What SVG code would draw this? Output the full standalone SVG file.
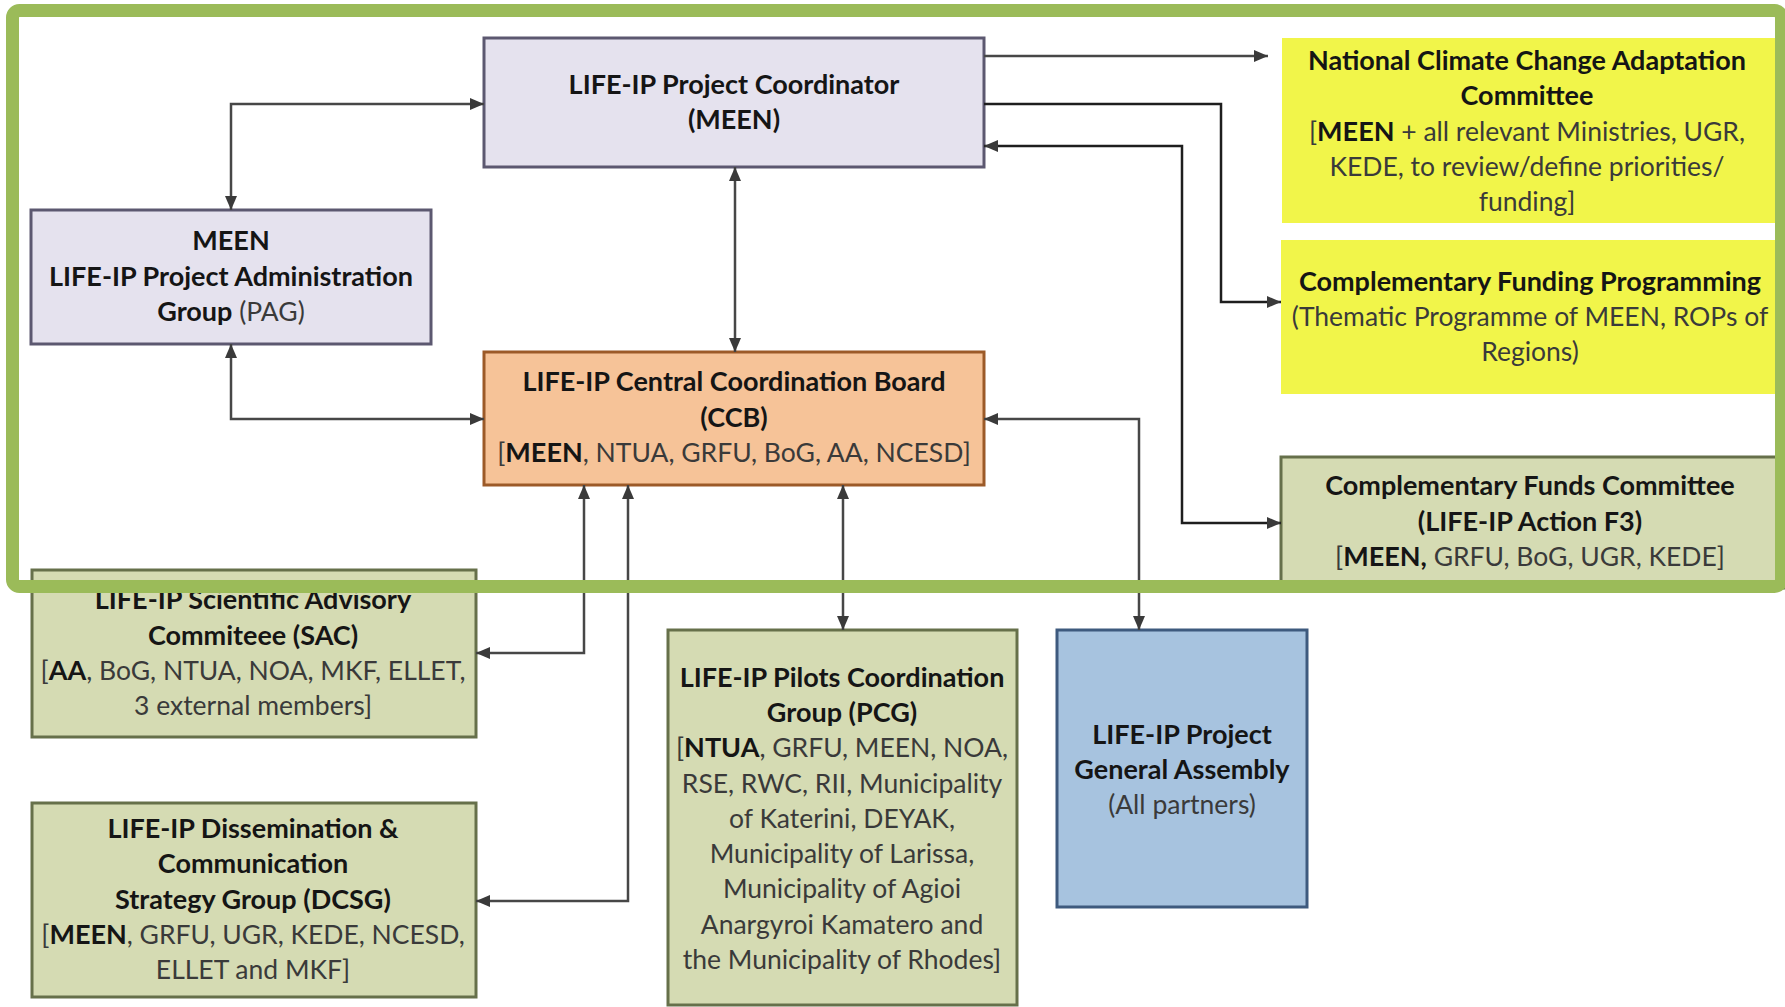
<svg xmlns="http://www.w3.org/2000/svg" width="1785" height="1007" viewBox="0 0 1785 1007">
<style>
text{font-family:Lato,"Liberation Sans",sans-serif;font-size:26.5px;text-anchor:middle;fill:#3a3a3a}
.b{font-weight:bold;font-size:27px;fill:#151515}
.purple{fill:#e5e2ee;stroke:#5c5870;stroke-width:3}
.orange{fill:#f6c398;stroke:#9c5a28;stroke-width:3}
.yellow{fill:#f1f54a;stroke:none}
.olive{fill:#d5dbb3;stroke:#66704a;stroke-width:3}
.blue{fill:#a7c3df;stroke:#3e5a7e;stroke-width:3}
.con path{fill:none;stroke:#474747;stroke-width:2.5}
.con path.dk{stroke:#1e1e1e}
</style>
<defs>
<marker id="ah" markerUnits="userSpaceOnUse" viewBox="0 0 14 12" markerWidth="14" markerHeight="12" refX="14" refY="6" orient="auto-start-reverse">
<path d="M0,0 L14,6 L0,12 z" fill="#3a3a3a"/>
</marker>
</defs>
<rect width="1785" height="1007" fill="#ffffff"/>

<g id="coordinator">
<rect class="purple" x="484" y="38" width="500" height="129"/>
<text x="734" y="94" class="b">LIFE-IP Project Coordinator</text>
<text x="734" y="129" class="b">(MEEN)</text>
</g>

<g id="pag">
<rect class="purple" x="31" y="210" width="400" height="134"/>
<text x="231" y="250" class="b">MEEN</text>
<text x="231" y="286" class="b">LIFE-IP Project Administration</text>
<text x="231" y="321"><tspan class="b">Group</tspan> (PAG)</text>
</g>

<g id="ccb">
<rect class="orange" x="484" y="352" width="500" height="133"/>
<text x="734" y="391" class="b">LIFE-IP Central Coordination Board</text>
<text x="734" y="427" class="b">(CCB)</text>
<text x="734" y="462">[<tspan class="b">MEEN</tspan>, NTUA, GRFU, BoG, AA, NCESD]</text>
</g>

<g id="ncca">
<rect class="yellow" x="1282" y="38" width="500" height="185"/>
<text x="1527" y="70" class="b">National Climate Change Adaptation</text>
<text x="1527" y="105" class="b">Committee</text>
<text x="1527" y="141">[<tspan class="b">MEEN</tspan> + all relevant Ministries, UGR,</text>
<text x="1527" y="176">KEDE, to review/define priorities/</text>
<text x="1527" y="211">funding]</text>
</g>

<g id="cfp">
<rect class="yellow" x="1281" y="240" width="501" height="154"/>
<text x="1530" y="291" class="b">Complementary Funding Programming</text>
<text x="1530" y="326">(Thematic Programme of MEEN, ROPs of</text>
<text x="1530" y="361">Regions)</text>
</g>

<g id="cfc">
<rect class="olive" x="1281" y="457" width="510" height="131"/>
<text x="1530" y="495" class="b">Complementary Funds Committee</text>
<text x="1530" y="531" class="b">(LIFE-IP Action F3)</text>
<text x="1530" y="566">[<tspan class="b">MEEN,</tspan> GRFU, BoG, UGR, KEDE]</text>
</g>

<g id="sac">
<rect class="olive" x="32" y="570" width="444" height="167"/>
<text x="253" y="609" class="b">LIFE-IP Scientific Advisory</text>
<text x="253" y="645" class="b">Commiteee (SAC)</text>
<text x="253" y="680">[<tspan class="b">AA</tspan>, BoG, NTUA, NOA, MKF, ELLET,</text>
<text x="253" y="715">3 external members]</text>
</g>

<g id="dcsg">
<rect class="olive" x="32" y="803" width="444" height="194"/>
<text x="253" y="838" class="b">LIFE-IP Dissemination &amp;</text>
<text x="253" y="873" class="b">Communication</text>
<text x="253" y="909" class="b">Strategy Group (DCSG)</text>
<text x="253" y="944">[<tspan class="b">MEEN</tspan>, GRFU, UGR, KEDE, NCESD,</text>
<text x="253" y="979">ELLET and MKF]</text>
</g>

<g id="pcg">
<rect class="olive" x="668" y="630" width="349" height="375"/>
<text x="842" y="687" class="b">LIFE-IP Pilots Coordination</text>
<text x="842" y="722" class="b">Group (PCG)</text>
<text x="842" y="757">[<tspan class="b">NTUA</tspan>, GRFU, MEEN, NOA,</text>
<text x="842" y="793">RSE, RWC, RII, Municipality</text>
<text x="842" y="828">of Katerini, DEYAK,</text>
<text x="842" y="863">Municipality of Larissa,</text>
<text x="842" y="898">Municipality of Agioi</text>
<text x="842" y="934">Anargyroi Kamatero and</text>
<text x="842" y="969">the Municipality of Rhodes]</text>
</g>

<g id="ga">
<rect class="blue" x="1057" y="630" width="250" height="277"/>
<text x="1182" y="744" class="b">LIFE-IP Project</text>
<text x="1182" y="779" class="b">General Assembly</text>
<text x="1182" y="814">(All partners)</text>
</g>

<g id="connectors" class="con">
<path d="M231,210 V104 H484" marker-start="url(#ah)" marker-end="url(#ah)"/>
<path d="M231,344 V419 H484" marker-start="url(#ah)" marker-end="url(#ah)"/>
<path d="M735,167 V352" marker-start="url(#ah)" marker-end="url(#ah)"/>
<path d="M984,56 H1268" marker-end="url(#ah)"/>
<path class="dk" d="M984,104 H1221 V302 H1281" marker-end="url(#ah)"/>
<path class="dk" d="M984,146 H1182 V523 H1281" marker-start="url(#ah)" marker-end="url(#ah)"/>
<path d="M984,419 H1139 V630" marker-start="url(#ah)" marker-end="url(#ah)"/>
<path d="M843,485 V630" marker-start="url(#ah)" marker-end="url(#ah)"/>
<path d="M584,485 V653 H476" marker-start="url(#ah)" marker-end="url(#ah)"/>
<path d="M628,485 V901 H476" marker-start="url(#ah)" marker-end="url(#ah)"/>
</g>

<g id="frame">
<rect x="12.5" y="10.5" width="1769" height="576" rx="7" fill="none" stroke="#9bbb59" stroke-width="13"/>
</g>
</svg>
